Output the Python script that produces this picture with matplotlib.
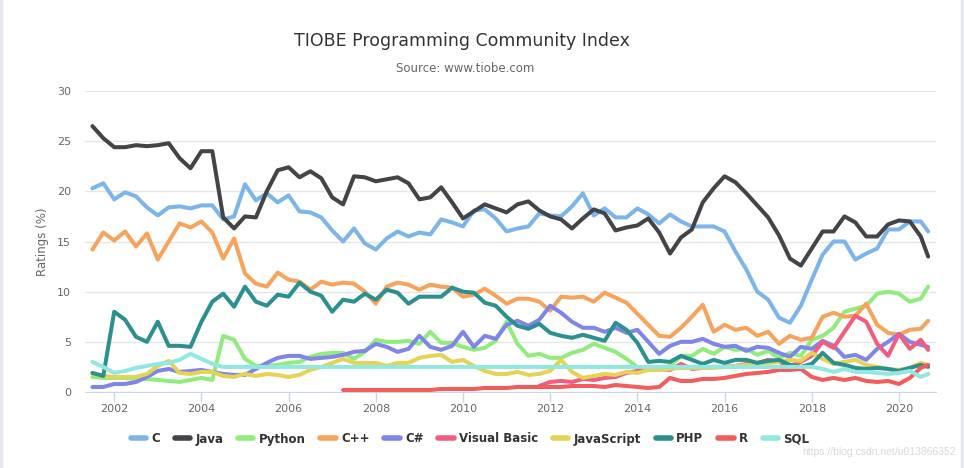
import numpy as np
import matplotlib

matplotlib.use("Agg")
import matplotlib.pyplot as plt
from matplotlib.patches import Rectangle

# quarterly samples, last point is Sept 2020
years = np.append(np.arange(2001.5, 2020.51, 0.25), 2020.67)

c_vals = [20.3, 20.8, 19.2, 19.9, 19.5, 18.4, 17.6, 18.4, 18.5, 18.3,
          18.6, 18.6, 17.2, 17.5, 20.7, 19.1, 19.8, 18.9, 19.6, 18.0,
          17.9, 17.4, 16.1, 15.0, 16.3, 14.8, 14.2, 15.3, 16.0, 15.5,
          15.9, 15.7, 17.2, 16.9, 16.5, 18.1, 18.2, 17.3, 16.0, 16.3,
          16.5, 17.8, 17.6, 17.5, 18.5, 19.8, 17.6, 18.3, 17.4, 17.4,
          18.3, 17.7, 16.8, 17.7, 17.0, 16.5, 16.5, 16.5, 16.0, 14.0,
          12.2, 10.0, 9.2, 7.4, 6.9, 8.6, 11.2, 13.7, 15.0, 15.0,
          13.2, 13.8, 14.3, 16.2, 16.2, 17.0, 17.0, 16.0]
java_vals = [26.5, 25.3, 24.4, 24.4, 24.6, 24.5, 24.6, 24.8, 23.3, 22.3,
             24.0, 24.0, 17.4, 16.3, 17.5, 17.4, 20.0, 22.1, 22.4, 21.4,
             22.0, 21.3, 19.4, 18.7, 21.5, 21.4, 21.0, 21.2, 21.4, 20.8,
             19.2, 19.4, 20.4, 18.9, 17.3, 18.0, 18.7, 18.3, 17.9, 18.7,
             19.0, 18.1, 17.5, 17.2, 16.3, 17.3, 18.2, 17.8, 16.1, 16.4,
             16.6, 17.3, 15.9, 13.8, 15.4, 16.2, 18.9, 20.3, 21.5, 20.9,
             19.8, 18.6, 17.4, 15.6, 13.3, 12.6, 14.3, 16.0, 16.0, 17.5,
             16.9, 15.5, 15.5, 16.7, 17.1, 17.0, 15.5, 13.5]
python_vals = [1.5, 1.4, 1.4, 1.4, 1.3, 1.3, 1.2, 1.1, 1.0, 1.2,
               1.4, 1.2, 5.6, 5.2, 3.3, 2.6, 2.6, 2.7, 2.9, 3.0,
               3.5, 3.8, 3.9, 3.9, 3.3, 4.0, 5.2, 5.0, 5.0, 5.1,
               4.8, 6.0, 4.9, 4.9, 4.5, 4.2, 4.4, 5.1, 7.0, 4.8,
               3.6, 3.8, 3.4, 3.4, 3.9, 4.2, 4.8, 4.4, 4.0, 3.3,
               2.5, 2.4, 2.3, 2.6, 3.6, 3.6, 4.3, 3.8, 4.5, 4.2,
               4.3, 3.7, 4.1, 3.4, 3.9, 3.6, 5.2, 5.6, 6.4, 8.0,
               8.3, 8.6, 9.8, 10.0, 9.8, 9.0, 9.3, 10.5]
cpp_vals = [14.2, 15.9, 15.1, 16.0, 14.5, 15.8, 13.2, 15.0, 16.8, 16.4,
            17.0, 15.9, 13.3, 15.3, 11.8, 10.8, 10.5, 11.9, 11.2, 11.0,
            10.2, 11.0, 10.7, 10.9, 10.8, 10.0, 8.8, 10.5, 10.9, 10.7,
            10.2, 10.7, 10.5, 10.4, 9.5, 9.7, 10.3, 9.6, 8.8, 9.3,
            9.3, 9.0, 8.1, 9.5, 9.4, 9.5, 9.0, 9.9, 9.4, 8.9,
            7.8, 6.7, 5.6, 5.5, 6.4, 7.5, 8.7, 6.0, 6.7, 6.2,
            6.4, 5.6, 6.0, 4.8, 5.6, 5.2, 5.4, 7.5, 7.9, 7.5,
            7.6, 8.8, 6.7, 5.9, 5.7, 6.2, 6.3, 7.1]
csharp_vals = [0.5, 0.5, 0.8, 0.8, 1.0, 1.5, 2.1, 2.3, 2.0, 2.1,
               2.2, 2.0, 1.8, 1.7, 1.7, 2.3, 2.9, 3.4, 3.6, 3.6,
               3.3, 3.4, 3.5, 3.7, 4.0, 4.1, 4.8, 4.5, 4.0, 4.3,
               5.6, 4.5, 4.2, 4.6, 6.0, 4.5, 5.6, 5.3, 6.7, 7.1,
               6.6, 7.2, 8.6, 7.9, 7.0, 6.4, 6.4, 6.0, 6.4, 5.9,
               6.2, 5.0, 3.8, 4.6, 5.0, 5.0, 5.3, 4.8, 4.5, 4.6,
               4.1, 4.5, 4.4, 3.9, 3.5, 4.5, 4.3, 5.1, 4.6, 3.5,
               3.7, 3.2, 4.3, 5.0, 5.8, 5.0, 4.7, 4.5]
js_vals = [1.8, 1.6, 1.5, 1.5, 1.5, 1.8, 2.6, 3.1, 1.9, 1.8,
           2.0, 2.0, 1.6, 1.5, 1.8, 1.6, 1.8, 1.7, 1.5, 1.7,
           2.2, 2.5, 2.9, 3.3, 2.9, 2.9, 2.9, 2.6, 2.9, 2.9,
           3.4, 3.6, 3.7, 3.0, 3.2, 2.6, 2.1, 1.8, 1.8, 2.0,
           1.7, 1.8, 2.1, 3.2, 2.0, 1.4, 1.6, 1.8, 1.7, 2.0,
           1.9, 2.2, 2.2, 2.3, 2.4, 2.4, 2.4, 2.4, 2.5, 2.6,
           2.7, 2.8, 2.9, 3.0, 3.2, 3.1, 3.9, 3.3, 2.8, 3.0,
           3.2, 2.7, 2.5, 2.3, 2.2, 2.4, 2.9, 2.7]
php_vals = [1.9, 1.6, 8.0, 7.2, 5.5, 5.0, 7.0, 4.6, 4.6, 4.5,
            7.0, 9.0, 9.8, 8.5, 10.5, 9.0, 8.6, 9.7, 9.5, 10.9,
            10.0, 9.6, 8.0, 9.2, 9.0, 9.8, 9.2, 10.2, 9.9, 8.8,
            9.5, 9.5, 9.5, 10.4, 10.0, 9.9, 8.9, 8.6, 7.5, 6.6,
            6.3, 6.8, 5.9, 5.6, 5.4, 5.7, 5.4, 5.1, 6.9, 6.2,
            4.9, 3.0, 3.1, 3.0, 3.6, 3.2, 2.8, 3.2, 2.9, 3.2,
            3.2, 2.9, 3.1, 3.2, 2.7, 2.5, 2.8, 3.9, 2.9, 2.7,
            2.4, 2.3, 2.4, 2.3, 2.1, 2.4, 2.7, 2.5]

# Visual Basic starts at 2011.75 (index 41), R at 2007.25 (index 23)
vb_start = 41
vb_vals = [0.6, 1.0, 1.1, 1.0, 1.3, 1.2, 1.4, 1.5, 1.9, 2.1,
           2.3, 2.3, 2.2, 2.8, 2.3, 2.4, 2.5, 2.5, 2.6, 2.8,
           2.9, 3.2, 3.0, 2.6, 3.0, 3.6, 5.0, 4.4, 6.0, 7.6,
           7.0, 4.8, 3.6, 5.8, 4.3, 5.2, 4.2]
r_start = 23
r_vals = [0.2, 0.2, 0.2, 0.2, 0.2, 0.2, 0.2, 0.2, 0.2, 0.3,
          0.3, 0.3, 0.3, 0.4, 0.4, 0.4, 0.5, 0.5, 0.5, 0.5,
          0.5, 0.6, 0.6, 0.6, 0.5, 0.7, 0.6, 0.5, 0.4, 0.5,
          1.4, 1.1, 1.1, 1.3, 1.3, 1.4, 1.6, 1.8, 1.9, 2.0,
          2.2, 2.2, 2.3, 1.5, 1.2, 1.4, 1.2, 1.4, 1.1, 1.0,
          1.1, 0.8, 1.4, 2.4, 2.7]

# SQL is flat between mid 2004 and 2018
sql_years = [2001.5, 2001.75, 2002.0, 2002.25, 2002.5, 2002.75, 2003.0,
             2003.25, 2003.5, 2003.75, 2004.0, 2004.25, 2004.5, 2018.0,
             2018.25, 2018.5, 2018.75, 2019.0, 2019.25, 2019.5, 2019.75,
             2020.0, 2020.25, 2020.5, 2020.67]
sql_vals = [3.0, 2.5, 1.9, 2.1, 2.4, 2.6, 2.8, 2.9, 3.2, 3.8, 3.3, 2.8,
            2.5, 2.5, 2.3, 2.0, 2.3, 2.0, 2.0, 1.9, 1.8, 1.9, 2.1, 1.5, 1.8]

series = [
    ("C", years, c_vals, "#7cb5ec"),
    ("Java", years, java_vals, "#434348"),
    ("Python", years, python_vals, "#90ed7d"),
    ("C++", years, cpp_vals, "#f7a35c"),
    ("C#", years, csharp_vals, "#8085e9"),
    ("Visual Basic", years[vb_start:], vb_vals, "#f15c80"),
    ("JavaScript", years, js_vals, "#e4d354"),
    ("PHP", years, php_vals, "#2b908f"),
    ("R", years[r_start:], r_vals, "#f45b5b"),
    ("SQL", sql_years, sql_vals, "#91e8e1"),
]

W, H = 964, 468
fig = plt.figure(figsize=(W / 100, H / 100), dpi=100)
ax = fig.add_axes([85 / W, 1 - 392 / H, (936 - 85) / W, (392 - 91) / H])

for name, x, y, color in series:
    ax.plot(x, y, color=color, lw=2.9, label=name,
            solid_joinstyle="round", solid_capstyle="round")

ax.set_xlim(2001.33, 2020.85)
ax.set_ylim(0, 30)
ax.set_yticks(range(0, 31, 5))
ax.set_xticks(range(2002, 2021, 2))
ax.grid(axis="y", color="#e6e6e6", lw=1)
ax.set_axisbelow(True)
for s in ["top", "right", "left"]:
    ax.spines[s].set_visible(False)
ax.spines["bottom"].set_color("#ccd6eb")
ax.tick_params(axis="y", length=0, labelcolor="#666666", labelsize=8, pad=10)
ax.tick_params(axis="x", length=7, width=1, color="#ccd6eb",
               labelcolor="#666666", labelsize=8, pad=2)
ax.set_ylabel("Ratings (%)", color="#666666", fontsize=8.5, labelpad=6)

fig.text(462 / W, 1 - 41 / H, "TIOBE Programming Community Index",
         ha="center", va="center", fontsize=12.5, color="#333333")
fig.text(465 / W, 1 - 69 / H, "Source: www.tiobe.com",
         ha="center", va="center", fontsize=8.5, color="#666666")

leg = fig.legend(loc="center", bbox_to_anchor=(470 / W, 1 - 439 / H),
                 ncol=10, frameon=False, handlelength=1.3, handletextpad=0.45,
                 columnspacing=1.25, prop={"weight": "bold", "size": 8.5})
for t in leg.get_texts():
    t.set_color("#333333")
for h in leg.get_lines():
    h.set_linewidth(4)

fig.text(956 / W, 1 - 452 / H, "https://blog.csdn.net/u013866352",
         ha="right", va="center", fontsize=7.5, color="#d8d8d8",
         family="Liberation Sans")

# light frame strips at the picture edges
fig.patches.append(Rectangle((961 / W, 0), 3 / W, 1, transform=fig.transFigure,
                             color="#e4e8ee", zorder=0))
fig.patches.append(Rectangle((0, 0), 2 / W, 1, transform=fig.transFigure,
                             color="#e4e8ee", zorder=0))

fig.savefig("out.png", dpi=100)
